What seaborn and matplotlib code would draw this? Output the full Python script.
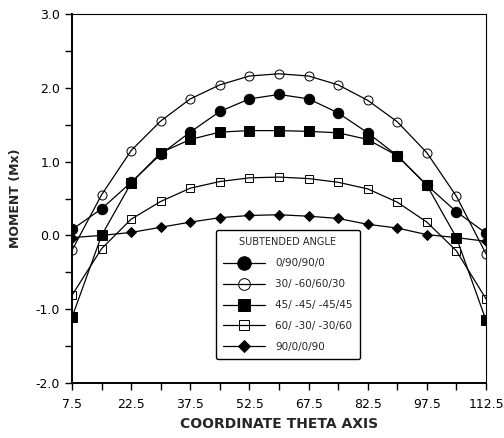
import matplotlib
matplotlib.use('Agg')
import matplotlib.pyplot as plt
import seaborn as sns
import numpy as np
import pandas as pd

theta = [7.5, 15, 22.5, 30, 37.5, 45, 52.5, 60, 67.5, 75, 82.5, 90, 97.5, 105, 112.5]

m_0_90 = [0.08, 0.36, 0.72, 1.10, 1.40, 1.68, 1.85, 1.91, 1.85, 1.66, 1.39, 1.08, 0.68, 0.32, 0.03]
m_30_60 = [-0.20, 0.55, 1.15, 1.55, 1.85, 2.04, 2.16, 2.19, 2.16, 2.04, 1.83, 1.54, 1.12, 0.53, -0.25]
m_45_45 = [-1.11, 0.00, 0.71, 1.12, 1.30, 1.40, 1.42, 1.42, 1.41, 1.39, 1.30, 1.08, 0.68, -0.03, -1.15]
m_60_30 = [-0.81, -0.18, 0.22, 0.46, 0.64, 0.73, 0.78, 0.79, 0.77, 0.72, 0.63, 0.45, 0.18, -0.21, -0.86]
m_90_0 = [-0.03, 0.00, 0.04, 0.11, 0.18, 0.24, 0.27, 0.28, 0.26, 0.23, 0.15, 0.10, 0.01, -0.03, -0.08]

labels = ['0/90/90/0', '30/ -60/60/30', '45/ -45/ -45/45', '60/ -30/ -30/60', '90/0/0/90']
series = [m_0_90, m_30_60, m_45_45, m_60_30, m_90_0]

sns.set_theme(style="ticks")
plt.rcParams['font.family'] = ['DejaVu Sans']

styles = [
    dict(marker='o', markersize=7.5, markerfacecolor='black'),
    dict(marker='o', markersize=6.5, markerfacecolor='none'),
    dict(marker='s', markersize=7, markerfacecolor='black'),
    dict(marker='s', markersize=5.5, markerfacecolor='none'),
    dict(marker='D', markersize=5, markerfacecolor='black'),
]

fig = plt.figure(figsize=(5.04, 4.38), dpi=100)
ax = fig.add_axes([0.1429, 0.1256, 0.8214, 0.8424])

for lab, vals, st in zip(labels, series, styles):
    sns.lineplot(x=theta, y=vals, ax=ax, color='black', linewidth=0.9,
                 markeredgecolor='black', markeredgewidth=0.7, label=lab, **st)

ax.set_xlim(7.5, 112.5)
ax.set_ylim(-2.0, 3.0)
ax.set_xticks(np.arange(7.5, 113, 15))
ax.set_xticks(np.arange(15, 113, 15), minor=True)
ax.set_xticklabels([f'{v:.1f}' for v in np.arange(7.5, 113, 15)])
ax.set_yticks(np.arange(-2, 3.1, 1.0))
ax.set_yticks(np.arange(-1.5, 3, 1.0), minor=True)
ax.set_yticklabels([f'{v:.1f}' for v in np.arange(-2, 3.1, 1.0)])
ax.tick_params(axis='both', which='both', direction='out', length=5, width=1, color='black',
               labelsize=9, labelcolor='black')
ax.tick_params(axis='x', pad=6)

for side in ['left', 'bottom']:
    ax.spines[side].set_linewidth(1.4)
for side in ['top', 'right']:
    ax.spines[side].set_linewidth(0.8)
for sp in ax.spines.values():
    sp.set_color('black')

ax.set_xlabel('COORDINATE THETA AXIS', fontsize=10, fontweight='bold', labelpad=4)
ax.set_ylabel('MOMENT (Mx)', fontsize=9, fontweight='bold', labelpad=10)

leg = ax.legend(title='SUBTENDED ANGLE', loc='lower left', bbox_to_anchor=(0.335, 0.05),
                fontsize=7.5, title_fontsize=7, handlelength=4.0, markerscale=1.3,
                frameon=True, fancybox=True, edgecolor='black', borderpad=0.7,
                labelspacing=1.05, handletextpad=1.0)
leg.get_frame().set_linewidth(1.0)
leg.get_frame().set_alpha(1)

fig.savefig('out.png', dpi=100)
plt.close(fig)
